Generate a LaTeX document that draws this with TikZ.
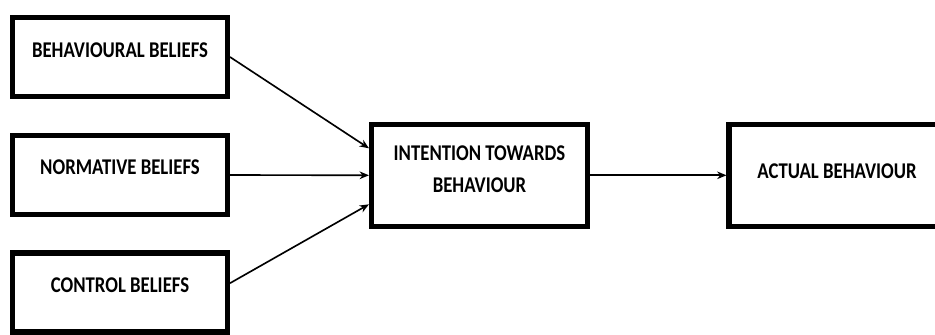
\documentclass[tikz,border=0pt]{standalone}
\usepackage{graphicx}
\usepackage{fontspec}
\setmainfont{Carlito}
\usetikzlibrary{arrows.meta}

\newcommand{\tallcaps}[1]{\scalebox{1}[1.2]{#1}}

\begin{document}
\begin{tikzpicture}[
  x=0.03cm, y=-0.03cm,
  box/.style={draw, line width=4.3pt, minimum width=6.45cm, minimum height=2.37cm, inner sep=0pt},
  bigbox/.style={box, minimum width=6.48cm, minimum height=3.05cm},
  txt/.style={font=\fontsize{16}{27}\selectfont\bfseries, align=center, inner sep=0pt},
  link/.style={-{Stealth[length=8pt, width=6.5pt]}, line width=1.4pt}
]

\useasboundingbox (0,0) rectangle (935,334);
\clip (0,0) rectangle (935,334);

% ------------------------------------------------------------
% Left column: the three kinds of beliefs
% ------------------------------------------------------------
\node[box] (bb) at (120,57) {};
\node[box] (nb) at (120,175) {};
\node[box] (cb) at (120,292.5) {};

\node[txt] (bbt) at (120,50) {\tallcaps{BEHAVIOURAL BELIEFS}};
\node[txt] (nbt) at (120,167) {\tallcaps{NORMATIVE BELIEFS}};
\node[txt] (cbt) at (120,285) {\tallcaps{CONTROL BELIEFS}};

% ------------------------------------------------------------
% Intention and behaviour
% ------------------------------------------------------------
\node[bigbox] (it) at (479.5,175.3) {};
\node[bigbox] (ab) at (837,175.3) {};

\node[txt] (itt) at (479.5,169) {\tallcaps{INTENTION TOWARDS}\\\tallcaps{BEHAVIOUR}};
\node[txt] (abt) at (837,171) {\tallcaps{ACTUAL BEHAVIOUR}};

% ------------------------------------------------------------
% Arrows
% ------------------------------------------------------------
\draw[link] (bb.east) -- ([yshift=0.81cm]it.west);
\draw[link] (nb.east) -- (it.west);
\draw[link] ([yshift=0.28cm]cb.east) -- ([yshift=-0.87cm]it.west);
\draw[link] (it.east) -- (ab.west);

\end{tikzpicture}
\end{document}
